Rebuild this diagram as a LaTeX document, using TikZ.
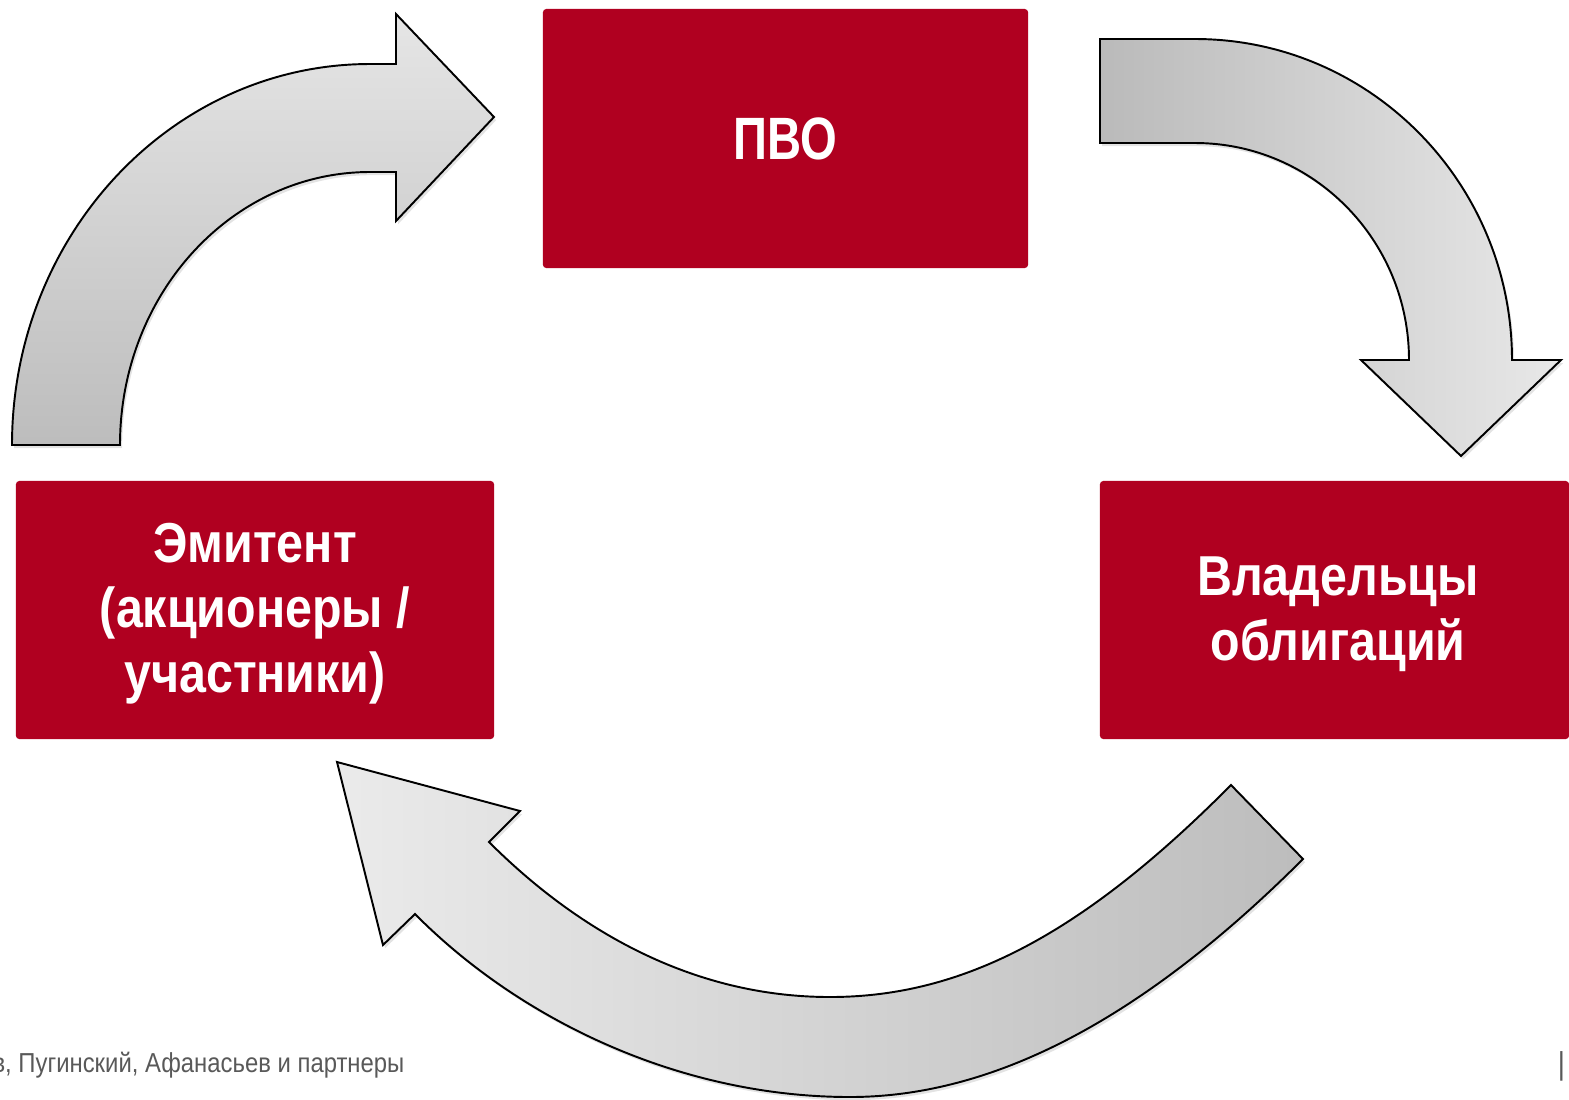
\documentclass[tikz,border=0pt]{standalone}
\usepackage{fontspec}
\usetikzlibrary{shadows}
\newfontfamily\boxFont[FakeStretch=0.86]{Liberation Sans Bold}
\newfontfamily\titleFont[FakeStretch=0.79]{Liberation Sans Bold}
\newfontfamily\footFont[FakeStretch=0.87]{Liberation Sans}
\definecolor{boxRed}{RGB}{176,0,32}
\definecolor{footGray}{RGB}{89,89,89}
\newcommand{\boxText}[1]{\boxFont\fontsize{#1}{18.5}\selectfont}

\begin{document}
\begin{tikzpicture}[%
  x=0.01cm, y=-0.01cm,%
  boxStyle/.style={fill=boxRed, rounded corners=1pt, text=white,%
    align=center, inner sep=0pt, font=\boxText{16}},%
  arrowStyle/.style={draw=black, line width=0.55pt, line join=miter,%
    drop shadow={opacity=0.22, shadow xshift=0.6pt, shadow yshift=-0.9pt}},%
  footStyle/.style={text=footGray, inner sep=0pt}%
]
%
% Page size of the slide.
\useasboundingbox (0,0) rectangle (1569,1099);
%
% The three parties.
\node[boxStyle, minimum width=4.85cm, minimum height=2.59cm,
  font=\titleFont\fontsize{17}{18.5}\selectfont]
  (pvo) at (785.5,138.5) {ПВО};
\node[boxStyle, minimum width=4.78cm, minimum height=2.58cm]
  (issuer) at (255,610) {};
\node[white, align=center, inner sep=0pt, font=\boxText{16}]
  (issuerText) at (255,614) {Эмитент\\(акционеры /\\участники)};
\node[boxStyle, minimum width=4.69cm, minimum height=2.58cm]
  (holders) at (1334.5,610) {};
\node[white, align=center, inner sep=0pt, font=\boxText{16}]
  (holdersText) at (1338,614) {Владельцы\\облигаций};
%
% Arrow from the issuer up to the ПВО.
\path[arrowStyle, top color=black!10, bottom color=black!26]
  (12,445) .. controls (12,235) and (172,64) .. (370,64) -- (396,64)
  -- (396,14) -- (494,117) -- (396,221) -- (396,172) -- (370,172)
  .. controls (232,172) and (120,294) .. (120,445) -- cycle;
%
% Arrow from the ПВО down to the holders.
\path[arrowStyle, left color=black!27, right color=black!9]
  (1100,39) -- (1195,39) .. controls (1370,39) and (1512,183) .. (1512,360)
  -- (1561,360) -- (1461,456) -- (1361,360) -- (1409,360)
  .. controls (1409,240) and (1313,143) .. (1195,143) -- (1100,143) -- cycle;
%
% Arrow from the holders back to the issuer.
\path[arrowStyle, left color=black!8, right color=black!26]
  (1231,785) -- (1303,859) .. controls (1150,1012) and (1000,1097) .. (850,1097)
  .. controls (680,1097) and (520,1020) .. (415,914)
  -- (383,945) -- (337,762) -- (520,811) -- (489,842)
  .. controls (575,928) and (690,997) .. (830,997)
  .. controls (965,997) and (1085,932) .. (1231,785) -- cycle;
%
% Footer.
\node[footStyle, anchor=base east, font=\footFont\fontsize{7.8}{9}\selectfont]
  (footer) at (405,1072) {в, Пугинский, Афанасьев и партнеры};
\node[footStyle, font=\footFont\fontsize{9}{9}\selectfont]
  (pageBar) at (1561.5,1066) {|};
\end{tikzpicture}
\end{document}
